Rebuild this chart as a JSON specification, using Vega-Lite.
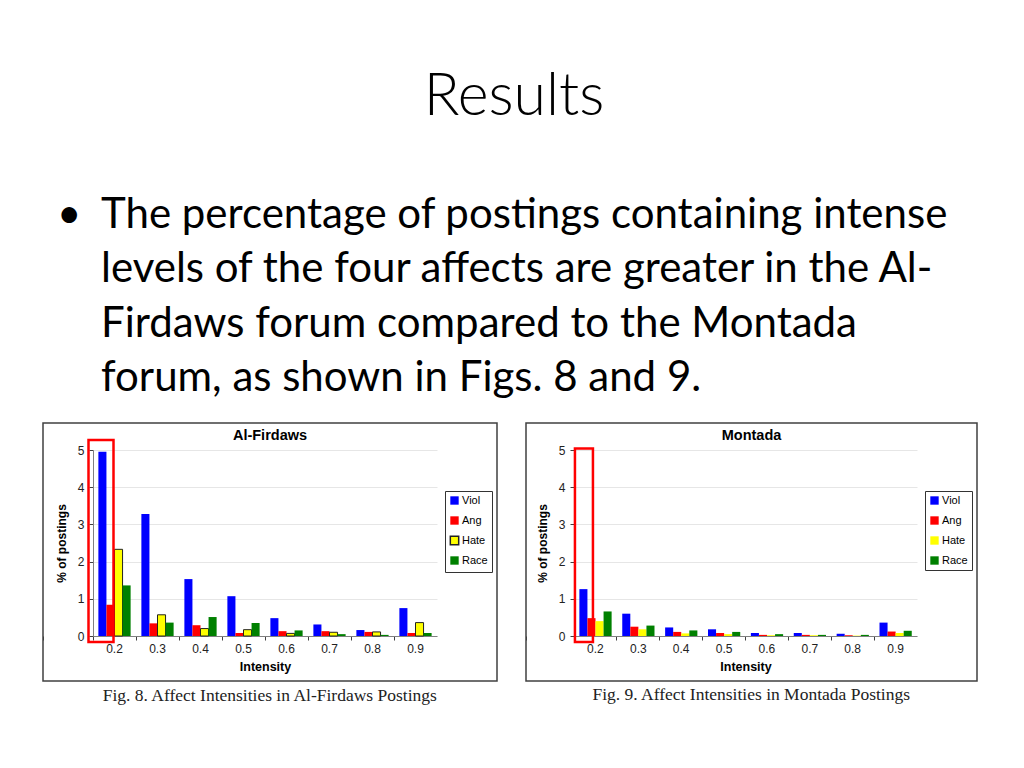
{
  "$schema": "https://vega.github.io/schema/vega-lite/v6.json",
  "background": "white",
  "padding": {"left": 41, "top": 0, "right": 0, "bottom": 0},
  "config": {
    "view": {"stroke": null},
    "axis": {"labelFont": "Liberation Sans", "titleFont": "Liberation Sans"},
    "legend": {"labelFont": "Liberation Sans"},
    "title": {"font": "Liberation Sans"}
  },
  "datasets": {
    "fig8": [
      {"intensity": "0.2", "series": "Viol", "value": 4.95}, {"intensity": "0.2", "series": "Ang", "value": 0.84}, {"intensity": "0.2", "series": "Hate", "value": 2.33}, {"intensity": "0.2", "series": "Race", "value": 1.36},
      {"intensity": "0.3", "series": "Viol", "value": 3.28}, {"intensity": "0.3", "series": "Ang", "value": 0.34}, {"intensity": "0.3", "series": "Hate", "value": 0.57}, {"intensity": "0.3", "series": "Race", "value": 0.36},
      {"intensity": "0.4", "series": "Viol", "value": 1.53}, {"intensity": "0.4", "series": "Ang", "value": 0.29}, {"intensity": "0.4", "series": "Hate", "value": 0.2}, {"intensity": "0.4", "series": "Race", "value": 0.51},
      {"intensity": "0.5", "series": "Viol", "value": 1.07}, {"intensity": "0.5", "series": "Ang", "value": 0.08}, {"intensity": "0.5", "series": "Hate", "value": 0.17}, {"intensity": "0.5", "series": "Race", "value": 0.35},
      {"intensity": "0.6", "series": "Viol", "value": 0.48}, {"intensity": "0.6", "series": "Ang", "value": 0.13}, {"intensity": "0.6", "series": "Hate", "value": 0.07}, {"intensity": "0.6", "series": "Race", "value": 0.15},
      {"intensity": "0.7", "series": "Viol", "value": 0.31}, {"intensity": "0.7", "series": "Ang", "value": 0.13}, {"intensity": "0.7", "series": "Hate", "value": 0.1}, {"intensity": "0.7", "series": "Race", "value": 0.05},
      {"intensity": "0.8", "series": "Viol", "value": 0.16}, {"intensity": "0.8", "series": "Ang", "value": 0.11}, {"intensity": "0.8", "series": "Hate", "value": 0.11}, {"intensity": "0.8", "series": "Race", "value": 0.03},
      {"intensity": "0.9", "series": "Viol", "value": 0.75}, {"intensity": "0.9", "series": "Ang", "value": 0.08}, {"intensity": "0.9", "series": "Hate", "value": 0.36}, {"intensity": "0.9", "series": "Race", "value": 0.08}
    ],
    "fig9": [
      {"intensity": "0.2", "series": "Viol", "value": 1.26}, {"intensity": "0.2", "series": "Ang", "value": 0.48}, {"intensity": "0.2", "series": "Hate", "value": 0.4}, {"intensity": "0.2", "series": "Race", "value": 0.66},
      {"intensity": "0.3", "series": "Viol", "value": 0.6}, {"intensity": "0.3", "series": "Ang", "value": 0.25}, {"intensity": "0.3", "series": "Hate", "value": 0.18}, {"intensity": "0.3", "series": "Race", "value": 0.28},
      {"intensity": "0.4", "series": "Viol", "value": 0.23}, {"intensity": "0.4", "series": "Ang", "value": 0.11}, {"intensity": "0.4", "series": "Hate", "value": 0.07}, {"intensity": "0.4", "series": "Race", "value": 0.15},
      {"intensity": "0.5", "series": "Viol", "value": 0.18}, {"intensity": "0.5", "series": "Ang", "value": 0.08}, {"intensity": "0.5", "series": "Hate", "value": 0.05}, {"intensity": "0.5", "series": "Race", "value": 0.11},
      {"intensity": "0.6", "series": "Viol", "value": 0.08}, {"intensity": "0.6", "series": "Ang", "value": 0.03}, {"intensity": "0.6", "series": "Hate", "value": 0.02}, {"intensity": "0.6", "series": "Race", "value": 0.05},
      {"intensity": "0.7", "series": "Viol", "value": 0.08}, {"intensity": "0.7", "series": "Ang", "value": 0.03}, {"intensity": "0.7", "series": "Hate", "value": 0.02}, {"intensity": "0.7", "series": "Race", "value": 0.03},
      {"intensity": "0.8", "series": "Viol", "value": 0.06}, {"intensity": "0.8", "series": "Ang", "value": 0.02}, {"intensity": "0.8", "series": "Hate", "value": 0.01}, {"intensity": "0.8", "series": "Race", "value": 0.03},
      {"intensity": "0.9", "series": "Viol", "value": 0.36}, {"intensity": "0.9", "series": "Ang", "value": 0.12}, {"intensity": "0.9", "series": "Hate", "value": 0.08}, {"intensity": "0.9", "series": "Race", "value": 0.14}
    ],
    "slide": [
      {"line": 1, "kind": "bullet", "text": "•"},
      {"line": 1, "kind": "text", "text": "The percentage of postings containing intense"},
      {"line": 2, "kind": "text", "text": "levels of the four affects are greater in the Al-"},
      {"line": 3, "kind": "text", "text": "Firdaws forum compared to the Montada"},
      {"line": 4, "kind": "text", "text": "forum, as shown in Figs. 8 and 9."}
    ]
  },
  "spacing": 0,
  "resolve": {"scale": {"color": "independent", "stroke": "independent"}, "legend": {"color": "independent", "stroke": "independent"}},
  "vconcat": [
    {
      "width": 942, "height": 194,
      "data": {"values": [{"text": "Results"}]},
      "mark": {"type": "text", "font": "Lato", "fontWeight": 300, "fontSize": 59, "align": "center", "baseline": "middle", "color": "#000"},
      "encoding": {"text": {"field": "text"}}
    },
    {
      "width": 942, "height": 228,
      "data": {"name": "slide"},
      "mark": {"type": "text", "font": "Lato", "fontSize": 42, "align": "left", "baseline": "middle", "color": "#000"},
      "encoding": {
        "x": {"field": "kind", "type": "nominal", "scale": {"type": "point", "domain": ["bullet", "text"], "range": [14, 58], "padding": 0}, "axis": null},
        "y": {"field": "line", "type": "ordinal", "scale": {"type": "point", "domain": [1, 2, 3, 4], "range": [21, 184], "padding": 0}, "axis": null},
        "text": {"field": "text"}
      }
    },
    {
      "spacing": 26,
      "resolve": {"scale": {"color": "independent", "stroke": "independent"}, "legend": {"color": "independent", "stroke": "independent"}},
      "hconcat": [
        {
          "title": {"text": "Fig. 8.  Affect Intensities in Al-Firdaws Postings", "orient": "bottom", "font": "Liberation Serif", "fontSize": 17.5, "fontWeight": "normal", "color": "#222", "offset": 5, "anchor": "middle"},
          "resolve": {"scale": {"color": "independent", "stroke": "independent"}, "legend": {"color": "independent", "stroke": "independent"}},
          "vconcat": [
            {
              "width": 454, "height": 258,
              "view": {"stroke": "#404040", "strokeWidth": 1.5},
              "title": {"text": "Al-Firdaws", "fontSize": 14.5, "fontWeight": "bold", "offset": -20, "frame": "group", "anchor": "middle", "color": "#000"},
              "data": {"name": "fig8"},
              "layer": [
                {
                  "mark": {"type": "bar"},
                  "encoding": {
                    "x": {"field": "intensity", "type": "nominal", "scale": {"type": "band", "range": [50, 394], "paddingInner": 0, "paddingOuter": 0},
                      "axis": {"orient": "bottom", "offset": -45, "bandPosition": 0, "tickExtra": true, "labelAngle": 0, "domainColor": "#808080", "tickColor": "#404040", "tickSize": 4, "labelFontSize": 12, "labelColor": "#222", "labelPadding": 3, "title": "Intensity", "titleFontSize": 12.5, "titleFontWeight": "bold", "titlePadding": 6, "titleColor": "#000", "grid": false}},
                    "xOffset": {"field": "series", "type": "nominal", "scale": {"domain": ["Viol", "Ang", "Hate", "Race"], "paddingInner": 0, "paddingOuter": 0.667}},
                    "y": {"field": "value", "type": "quantitative", "scale": {"domain": [0, 5], "range": [213, 27], "nice": false},
                      "axis": {"orient": "left", "offset": -50, "values": [0, 1, 2, 3, 4, 5], "format": "d", "grid": true, "gridColor": "#e6e6e6", "domainColor": "#808080", "tickColor": "#404040", "tickSize": 4, "labelFontSize": 12, "labelColor": "#222", "labelPadding": 5, "title": "% of postings", "titleFontSize": 12, "titleFontWeight": "bold", "titlePadding": 9, "titleColor": "#000"}},
                    "color": {"field": "series", "type": "nominal", "scale": {"domain": ["Viol", "Ang", "Hate", "Race"], "range": ["#0000FF", "#FF0000", "#FFFF00", "#008000"]},
                      "legend": {"orient": "none", "legendX": 402, "legendY": 68, "title": null, "strokeColor": "#333", "fillColor": "white", "padding": 4, "symbolType": "square", "symbolSize": 70, "labelFontSize": 11, "labelColor": "#000", "rowPadding": 5, "labelOffset": 2, "symbolOpacity": 1}},
                    "stroke": {"field": "series", "type": "nominal", "scale": {"domain": ["Viol", "Ang", "Hate", "Race"], "range": ["transparent", "transparent", "#222", "transparent"]}}
                  }
                },
                {
                  "data": {"values": [{"intensity": "0.2", "lo": -0.16, "hi": 5.27}]},
                  "mark": {"type": "bar", "fill": null, "fillOpacity": 0, "stroke": "#FF0000", "strokeWidth": 2.5, "width": 25, "xOffset": -13.5, "clip": false},
                  "encoding": {
                    "x": {"field": "intensity", "type": "nominal"},
                    "y": {"field": "lo", "type": "quantitative"},
                    "y2": {"field": "hi"}
                  }
                }
              ]
            }
          ]
        },
        {
          "title": {"text": "Fig. 9.  Affect Intensities in Montada Postings", "orient": "bottom", "font": "Liberation Serif", "fontSize": 17.5, "fontWeight": "normal", "color": "#222", "offset": 4, "anchor": "middle"},
          "resolve": {"scale": {"color": "independent", "stroke": "independent"}, "legend": {"color": "independent", "stroke": "independent"}},
          "vconcat": [
            {
              "width": 451, "height": 258,
              "view": {"stroke": "#404040", "strokeWidth": 1.5},
              "title": {"text": "Montada", "fontSize": 14.5, "fontWeight": "bold", "offset": -20, "frame": "group", "anchor": "middle", "color": "#000"},
              "data": {"name": "fig9"},
              "layer": [
                {
                  "mark": {"type": "bar"},
                  "encoding": {
                    "x": {"field": "intensity", "type": "nominal", "scale": {"type": "band", "range": [48, 391], "paddingInner": 0, "paddingOuter": 0},
                      "axis": {"orient": "bottom", "offset": -45, "bandPosition": 0, "tickExtra": true, "labelAngle": 0, "domainColor": "#808080", "tickColor": "#404040", "tickSize": 4, "labelFontSize": 12, "labelColor": "#222", "labelPadding": 3, "title": "Intensity", "titleFontSize": 12.5, "titleFontWeight": "bold", "titlePadding": 6, "titleColor": "#000", "grid": false}},
                    "xOffset": {"field": "series", "type": "nominal", "scale": {"domain": ["Viol", "Ang", "Hate", "Race"], "paddingInner": 0, "paddingOuter": 0.667}},
                    "y": {"field": "value", "type": "quantitative", "scale": {"domain": [0, 5], "range": [213, 27], "nice": false},
                      "axis": {"orient": "left", "offset": -48, "values": [0, 1, 2, 3, 4, 5], "format": "d", "grid": true, "gridColor": "#e6e6e6", "domainColor": "#808080", "tickColor": "#404040", "tickSize": 4, "labelFontSize": 12, "labelColor": "#222", "labelPadding": 5, "title": "% of postings", "titleFontSize": 12, "titleFontWeight": "bold", "titlePadding": 9, "titleColor": "#000"}},
                    "color": {"field": "series", "type": "nominal", "scale": {"domain": ["Viol", "Ang", "Hate", "Race"], "range": ["#0000FF", "#FF0000", "#FFFF00", "#008000"]},
                      "legend": {"orient": "none", "legendX": 399, "legendY": 68, "title": null, "strokeColor": "#333", "fillColor": "white", "padding": 4, "symbolType": "square", "symbolSize": 70, "labelFontSize": 11, "labelColor": "#000", "rowPadding": 8, "labelOffset": 2, "symbolOpacity": 1}}
                  }
                },
                {
                  "data": {"values": [{"intensity": "0.2", "lo": -0.16, "hi": 5.04}]},
                  "mark": {"type": "bar", "fill": null, "fillOpacity": 0, "stroke": "#FF0000", "strokeWidth": 2.5, "width": 18, "xOffset": -11.5, "clip": false},
                  "encoding": {
                    "x": {"field": "intensity", "type": "nominal"},
                    "y": {"field": "lo", "type": "quantitative"},
                    "y2": {"field": "hi"}
                  }
                }
              ]
            }
          ]
        }
      ]
    }
  ]
}
